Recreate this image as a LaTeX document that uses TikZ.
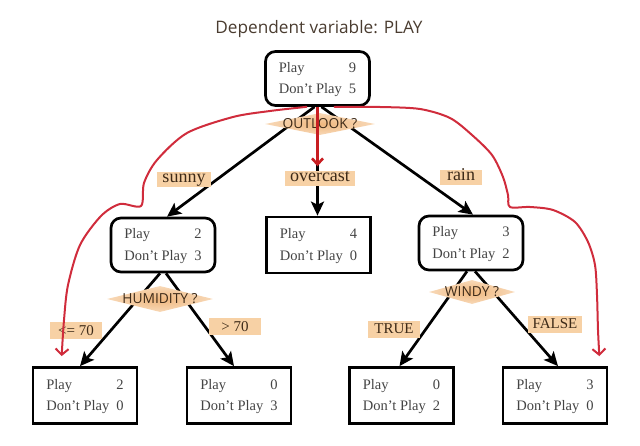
\documentclass[tikz,border=0pt]{standalone}
\usepackage{fontspec}
\setmainfont{Liberation Serif}
\newfontfamily\sansf{Open Sans}
\usetikzlibrary{shapes.geometric,arrows.meta}
\definecolor{peach}{HTML}{F7D1A5}
\definecolor{diain}{HTML}{EFB77E}
\definecolor{diaout}{HTML}{F8D9B8}
\definecolor{txtbrown}{HTML}{3D2A18}
\definecolor{boxtxt}{HTML}{444444}
\definecolor{redline}{HTML}{D02C3C}
\definecolor{redmid}{HTML}{C81E22}
\definecolor{titlec}{HTML}{4A3C30}
\newcommand{\pdtab}[2]{{\fontsize{14.5}{21.5}\selectfont\color{boxtxt}\begin{tabular}{@{}p{70pt}@{}r@{}}Play&#1\\Don't Play&#2\end{tabular}}}
\begin{document}
\begin{tikzpicture}[x=1pt,y=-1pt,
  titlestyle/.style={font=\sansf\fontsize{17.2}{17.2}\selectfont, text=titlec, inner sep=0pt},
  rbox/.style={draw, line width=2.7pt, rounded corners=10pt, minimum width=104pt, minimum height=54pt, inner sep=0pt, fill=white},
  sbox/.style={draw, line width=2.7pt, minimum width=104pt, minimum height=56pt, inner sep=0pt, fill=white},
  dia/.style={diamond, inner color=diain, outer color=diaout, shade, draw=none, inner sep=0pt,
     label={[font=\sansf\fontsize{13.8}{13.8}\selectfont, text=txtbrown]center:#1}},
  lbl/.style={fill=peach, text=txtbrown, font=\fontsize{18}{18}\selectfont, inner xsep=5pt, inner ysep=0pt,
     minimum height=15pt, minimum width=42pt, text height=8.5pt, text depth=3pt},
  lbl2/.style={fill=peach, text=txtbrown, font=\fontsize{15}{15}\selectfont, inner xsep=5pt, inner ysep=0pt,
     minimum height=17pt, minimum width=52pt, text height=10pt, text depth=2pt},
  blk/.style={line width=2.7pt, -{Stealth[length=14pt,width=13pt,inset=3pt]}},
  redc/.style={draw=redline, line width=2pt, line cap=round, line join=round, -{Straight Barb[length=6pt,width=13pt]}},
  redm/.style={draw=redmid, line width=2.6pt, -{Straight Barb[length=6pt,width=11pt]}}
]
\useasboundingbox (0,0) rectangle (640,446);
\node[titlestyle] (title) at (319,29) {Dependent variable: PLAY};
\node[rbox] (root) at (317.5,78.5) {\pdtab{9}{5}};
\node[rbox] (sun) at (163,245) {\pdtab{2}{3}};
\node[sbox] (ove) at (318.5,245) {\pdtab{4}{0}};
\node[rbox] (rai) at (471,243) {\pdtab{3}{2}};
\node[sbox] (l1) at (85,395.5) {\pdtab{2}{0}};
\node[sbox] (l2) at (239,395.5) {\pdtab{0}{3}};
\node[sbox] (l3) at (401.5,395.5) {\pdtab{0}{2}};
\node[sbox] (l4) at (555,395.5) {\pdtab{3}{0}};
% black edges
\draw[blk] ([xshift=-3pt]root.south) -- ([xshift=4pt]sun.north);
\draw[blk] (root.south) -- (root.south |- ove.north);
\draw[blk] ([xshift=4pt]root.south) -- ([xshift=2pt]rai.north);
\draw[blk] ([xshift=-3pt]sun.south) -- ([xshift=-5pt]l1.north);
\draw[blk] ([xshift=3pt]sun.south) -- ([xshift=-5pt]l2.north);
\draw[blk] ([xshift=-4pt]rai.south) -- ([xshift=-2pt]l3.north);
\draw[blk] ([xshift=4pt]rai.south) -- ([xshift=3pt]l4.north);
% decision diamonds
\node[dia={OUTLOOK ?}, minimum width=110pt, minimum height=22pt] (d1) at (320,124) {};
\node[dia={HUMIDITY ?}, minimum width=106pt, minimum height=26pt] (d2) at (160,299) {};
\node[dia={WINDY ?}, minimum width=86pt, minimum height=24pt] (d3) at (472,292) {};
% branch labels
\node[lbl] (lsun) at (184,180) {sunny};
\node[lbl] (love) at (320,179) {overcast};
\node[lbl] (lrai) at (461,178) {rain};
\node[lbl2] (lle) at (76,331) {<= 70};
\node[lbl2] (lgt) at (235,327) {> 70};
\node[lbl2] (ltr) at (394,330) {TRUE};
\node[lbl2] (lfa) at (555,325) {FALSE};
% red annotations
\coordinate (rs1) at ([xshift=-11pt]root.south);
\coordinate (re1) at ([xshift=30pt,yshift=10pt]l1.north west);
\coordinate (rs2) at ([xshift=17pt]root.south);
\coordinate (re2) at ([xshift=-9pt,yshift=10pt]l4.north east);
\draw[redc] plot[smooth, tension=0.5] coordinates {(rs1) (270,111) (233,117) (187,133) (157,160) (144,183) (141,206) (120,204) (101,216) (80,245) (68,285) (64,320) (re1)};
\draw[redc] plot[smooth, tension=0.5] coordinates {(rs2) (380,107) (420,109) (450,118) (472,135) (492,155) (503,177) (508,195) (510,207) (530,207) (553,210) (575,222) (588,242) (595,265) (597,295) (598,330) (re2)};
\draw[redm, shorten >=5pt] (root.south) -- (root.south |- love.north);
\end{tikzpicture}
\end{document}
